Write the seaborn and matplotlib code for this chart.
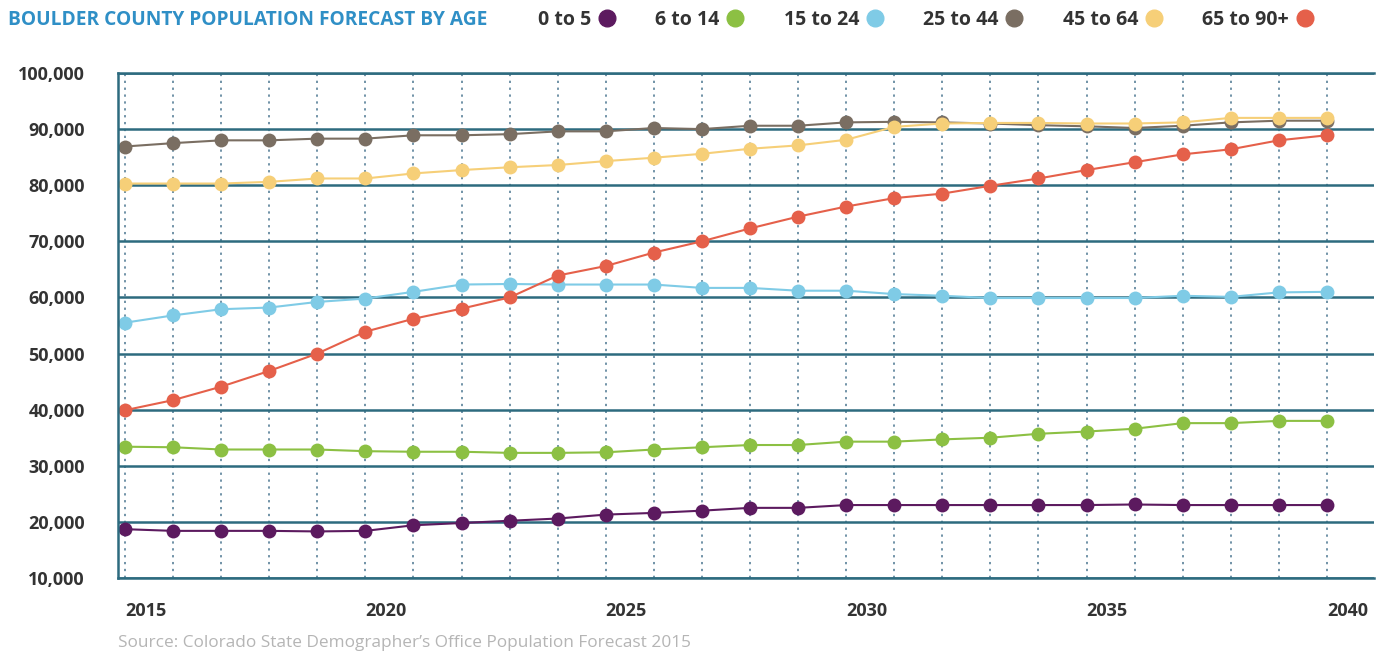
import matplotlib
matplotlib.use("Agg")
import matplotlib.pyplot as plt
import pandas as pd
import seaborn as sns
from matplotlib.lines import Line2D

# Boulder County population forecast by age group
years = list(range(2015, 2041))
age_0_5 = [18700, 18400, 18400, 18400, 18300, 18400, 19400, 19800, 20200, 20600, 21300, 21600, 22000,
           22500, 22500, 23000, 23000, 23000, 23000, 23000, 23000, 23100, 23000, 23000, 23000, 23000]
age_6_14 = [33400, 33300, 32900, 32900, 32900, 32600, 32500, 32500, 32300, 32300, 32400, 32900, 33300,
            33700, 33700, 34300, 34300, 34700, 35000, 35700, 36100, 36600, 37600, 37600, 38000, 38000]
age_15_24 = [55500, 56800, 57900, 58200, 59200, 59800, 61000, 62300, 62400, 62300, 62300, 62300, 61700,
             61700, 61200, 61200, 60600, 60300, 59900, 59900, 59900, 59900, 60300, 60100, 60900, 61000]
age_25_44 = [86900, 87500, 88000, 88000, 88300, 88300, 88900, 88900, 89100, 89600, 89600, 90200, 90000,
             90600, 90600, 91200, 91300, 91200, 91000, 90700, 90500, 90200, 90600, 91200, 91500, 91500]
age_45_64 = [80300, 80300, 80300, 80600, 81200, 81200, 82100, 82700, 83200, 83600, 84300, 84900, 85600,
             86500, 87100, 88100, 90400, 91000, 91100, 91100, 91000, 91000, 91200, 92000, 92000, 92000]
age_65_90 = [39900, 41700, 44100, 46900, 50000, 53900, 56200, 58000, 60000, 63900, 65600, 68000, 70000,
             72300, 74400, 76200, 77700, 78500, 79900, 81200, 82700, 84100, 85500, 86400, 88000, 88900]

ages = ["0 to 5", "6 to 14", "15 to 24", "25 to 44", "45 to 64", "65 to 90+"]
colors = ["#5c1a5f", "#8cc043", "#7fcbe6", "#7a6e62", "#f6cf78", "#e5604a"]
y_ticks = list(range(10000, 100001, 10000))

df = pd.DataFrame({"year": years, ages[0]: age_0_5, ages[1]: age_6_14, ages[2]: age_15_24,
                   ages[3]: age_25_44, ages[4]: age_45_64, ages[5]: age_65_90})
df = df.melt(id_vars="year", var_name="age", value_name="population")

sns.set_theme(style="white")
plt.rcParams["font.family"] = ["Open Sans", "DejaVu Sans"]

fig = plt.figure(figsize=(13.83, 6.53), dpi=100)
ax = fig.add_axes([118 / 1383, 1 - 578 / 653, 1256 / 1383, 505 / 653])

sns.lineplot(df, x="year", y="population", hue="age", hue_order=ages,
             palette=dict(zip(ages, colors)), marker="o", markersize=10,
             markeredgewidth=0, linewidth=1.5, legend=False, ax=ax)

ax.set_xlim(2014.854, 2040.98)
ax.set_ylim(10000, 100000)
ax.set_xticks(years)
ax.set_xticklabels([str(y) if y % 5 == 0 else "" for y in years], ha="left",
                   fontweight="bold", fontsize=13, color="#333333")
ax.set_yticks(y_ticks)
ax.set_yticklabels([f"{v:,}" for v in y_ticks], fontweight="bold", fontsize=13, color="#333333")
ax.tick_params(axis="x", length=0, pad=17)
ax.tick_params(axis="y", length=0, pad=24)
ax.set_xlabel("")
ax.set_ylabel("")

grid_col = "#2d6b7f"
ax.xaxis.grid(True, color="#4a7590", linestyle=(0, (1.5, 3)), linewidth=1.1)
ax.yaxis.grid(True, color=grid_col, linewidth=1.8)
ax.set_axisbelow(True)
for side in ["left", "top", "bottom"]:
    ax.spines[side].set_color(grid_col)
    ax.spines[side].set_linewidth(1.8)
ax.spines["right"].set_visible(False)

fig.text(8 / 1383, 1 - 20 / 653, "BOULDER COUNTY POPULATION FORECAST BY AGE",
         color="#2f8fc6", fontweight="bold", fontsize=13.8, va="center", ha="left")

handles = [Line2D([], [], marker="o", color=c, linestyle="", markersize=12) for c in colors]
fig.legend(handles, ages, ncol=6, loc="center left", bbox_to_anchor=(530 / 1383, 1 - 20 / 653),
           frameon=False, markerfirst=False, handletextpad=0.3, columnspacing=2.0,
           handlelength=1.0, borderaxespad=0, prop={"weight": "bold", "size": 14},
           labelcolor="#333333")

fig.text(118 / 1383, 1 - 643 / 653,
         "Source: Colorado State Demographer\u2019s Office Population Forecast 2015",
         color="#b5b5b5", fontsize=12.4, va="center", ha="left")

fig.savefig("out.png", dpi=100)
